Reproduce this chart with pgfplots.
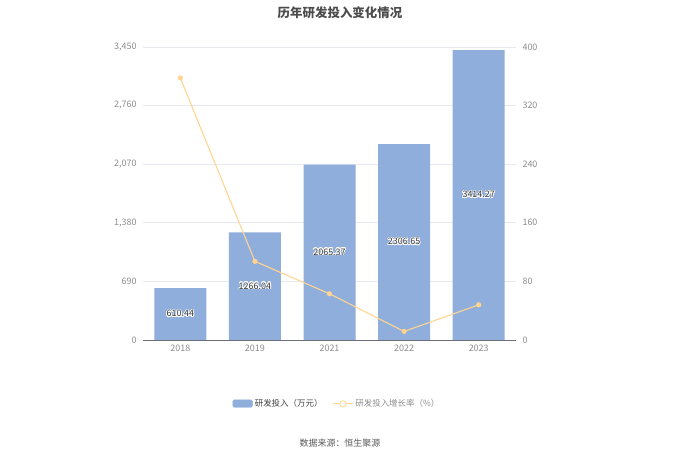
\documentclass[border=0pt]{standalone}
\usepackage{fontspec}
\setmainfont{Noto Sans CJK SC}
\usepackage{pgfplots}
\pgfplotsset{compat=1.18}
\usepackage{pgfplotstable}
\usepackage{contour}
\contourlength{0.6pt}
\contournumber{24}
\definecolor{barc}{HTML}{8FAEDB}
\definecolor{linec}{HTML}{FFD591}
\definecolor{gridc}{HTML}{E6E9F2}
\definecolor{tickc}{HTML}{8C8C8C}
\definecolor{axc}{HTML}{6E7079}
\pgfplotstableread{
x v
0 610.44
1 1266.04
2 2065.37
3 2306.65
4 3414.27
}\bars
\pgfplotstableread{
x g
0 357.8
1 107.4
2 63.1
3 11.68
4 48.02
}\growth
\begin{document}
\begin{tikzpicture}
\path[use as bounding box] (0bp,0bp) rectangle (680bp,460bp);
\node[font=\fontsize{12.5}{14}\selectfont\bfseries, text=black!70] at (340bp,447bp) {历年研发投入变化情况};
\node[font=\fontsize{9}{11}\selectfont, text=black!65] at (340bp,17bp) {数据来源：恒生聚源};
\begin{axis}[
  at={(143bp,120bp)}, anchor=south west, scale only axis,
  width=373bp, height=293bp,
  xmin=-0.5, xmax=4.5, ymin=0, ymax=3450,
  ytick={0,690,1380,2070,2760,3450},
  xtick={0,1,2,3,4}, xticklabels={2018,2019,2021,2022,2023},
  /pgf/number format/assume math mode=true,
  /pgf/number format/1000 sep={,},
  scaled y ticks=false,
  axis x line*=bottom, axis y line*=left,
  y axis line style={draw=none},
  x axis line style={draw=axc, line width=0.8pt},
  major tick length=0pt,
  ymajorgrids, grid style={draw=gridc, line width=0.6pt},
  tick label style={font=\fontsize{9}{11}\selectfont, text=tickc},
  yticklabel style={xshift=-3bp},
  xticklabel style={yshift=-1bp},
  clip=false,
]
\addplot[ybar, bar width=52bp, fill=barc, draw=none] table[x=x, y=v]{\bars};
\addplot[draw=none, mark=none, nodes near coords={\contour{white}{\pgfplotspointmeta}},
  point meta=explicit symbolic,
  nodes near coords style={anchor=center, font=\fontsize{9}{11}\selectfont, text=black!80}]
  table[x=x, y expr=\thisrow{v}/2, meta=v]{\bars};
\end{axis}
\begin{axis}[
  at={(143bp,120bp)}, anchor=south west, scale only axis,
  width=373bp, height=293bp,
  xmin=-0.5, xmax=4.5, ymin=0, ymax=400,
  ytick={0,80,160,240,320,400},
  /pgf/number format/assume math mode=true,
  axis y line*=right, axis x line=none,
  y axis line style={draw=none},
  major tick length=0pt,
  tick label style={font=\fontsize{9}{11}\selectfont, text=tickc},
  yticklabel style={xshift=3bp},
  legend columns=2,
  legend style={at={(0.52,-0.218)}, anchor=center, draw=none, fill=none,
    font=\fontsize{8.5}{10}\selectfont, column sep=8bp,
    /tikz/every odd column/.append style={column sep=0bp}},
  legend cell align=left,
  clip=false,
]
\addlegendimage{legend image code/.code={\fill[barc, rounded corners=1.5pt] (0cm,-0.12cm) rectangle (0.7cm,0.14cm);}}
\addlegendentry{\textcolor{black!75}{研发投入（万元）}}
\addplot[color=linec, line width=1.1pt, mark=*, mark size=2bp,
  mark options={fill=linec, draw=linec},
  legend image code/.code={\draw[linec, line width=1pt] (0cm,0cm) -- (0.7cm,0cm); \draw[linec, fill=white, line width=0.8pt] (0.35cm,0cm) circle (3.2pt);}]
  table[x=x, y=g]{\growth};
\addlegendentry{\textcolor{black!45}{研发投入增长率（\%）}}
\end{axis}
\end{tikzpicture}
\end{document}
